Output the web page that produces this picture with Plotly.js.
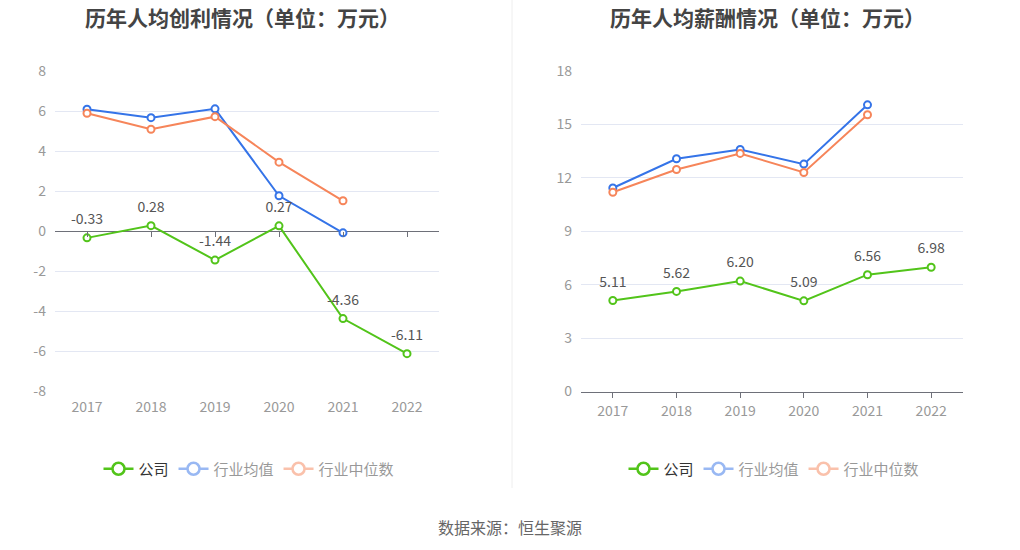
<!DOCTYPE html>
<html>
<head>
<meta charset="utf-8">
<script src="https://cdn.plot.ly/plotly-3.0.1.min.js"></script>
<style>
html,body{margin:0;padding:0;background:#fff;}
#chart{width:1020px;height:550px;}
/* the company entry keeps full opacity, the industry entries stay faded */
.legend .groups .traces:first-child,
.legend2 .groups .traces:first-child,
[class^="legend"] .groups .traces:first-child{opacity:1 !important;}
</style>
</head>
<body>
<div id="chart"></div>
<script>
// ---- data ----
var years = ['2017', '2018', '2019', '2020', '2021', '2022'];
var profitCompany = [-0.33, 0.28, -1.44, 0.27, -4.36, -6.11];
var profitIndustryAvg = [6.09, 5.67, 6.11, 1.77, -0.08, null];
var profitIndustryMedian = [5.89, 5.09, 5.72, 3.45, 1.52, null];
var salaryCompany = [5.11, 5.62, 6.20, 5.09, 6.56, 6.98];
var salaryIndustryAvg = [11.43, 13.07, 13.59, 12.77, 16.10, null];
var salaryIndustryMedian = [11.19, 12.47, 13.37, 12.30, 15.54, null];
var profitTickVals = [-8, -6, -4, -2, 0, 2, 4, 6, 8];
var profitTickText = ['-8', '-6', '-4', '-2', '0', '2', '4', '6', '8'];
var salaryTickVals = [0, 3, 6, 9, 12, 15, 18];
var salaryTickText = ['0', '3', '6', '9', '12', '15', '18'];
var seriesNames = ['公司', '行业均值', '行业中位数'];
var leftTitle = '历年人均创利情况（单位：万元）';
var rightTitle = '历年人均薪酬情况（单位：万元）';
var sourceText = '数据来源：恒生聚源';

// ---- style ----
var GREEN = '#52c41a', BLUE = '#3574e8', ORANGE = '#f6855a';
var FONT = '"Noto Sans CJK SC", "Noto Sans", sans-serif';
var W = 1020, H = 550;
function fx(px) { return px / W; }
function fy(py) { return 1 - py / H; }
var yDom = [fy(391.5), fy(71)];
var leftDom = [fx(55), fx(439)];
var rightDom = [fx(581), fx(963)];

function fmt(arr) { return arr.map(function (v) { return v == null ? '' : v.toFixed(2); }); }

function lineTrace(x, y, color, name, xa, ya) {
  return {
    type: 'scatter', mode: 'lines+markers', x: x, y: y, name: name,
    xaxis: xa, yaxis: ya,
    line: { color: color, width: 2 },
    marker: { symbol: 'circle', size: 7, color: '#fff', line: { color: color, width: 2 } },
    hoverinfo: 'skip', connectgaps: false, cliponaxis: false, showlegend: false
  };
}
function labelTrace(x, y, xa, ya) {
  return {
    type: 'scatter', mode: 'markers+text', x: x, y: y, xaxis: xa, yaxis: ya,
    text: fmt(y), textposition: 'top center',
    textfont: { size: 14, color: '#555', family: FONT },
    marker: { size: 15, color: 'rgba(0,0,0,0)', line: { width: 0 } },
    hoverinfo: 'skip', showlegend: false, cliponaxis: false
  };
}
// legend entries (legend-only copies of the series, drawn only in the legend)
function legendTrace(color, name, legendId, xa, ya, y) {
  return {
    type: 'scatter', mode: 'lines+markers', name: name, legend: legendId,
    x: years, y: y, xaxis: xa, yaxis: ya,
    visible: 'legendonly', showlegend: true,
    line: { color: color, width: 2.5 },
    marker: { symbol: 'circle', size: 12, color: '#fff', line: { color: color, width: 2.5 } },
    hoverinfo: 'skip'
  };
}

var traces = [
  // left chart
  lineTrace(years, profitIndustryAvg, BLUE, seriesNames[1], 'x', 'y'),
  lineTrace(years, profitIndustryMedian, ORANGE, seriesNames[2], 'x', 'y'),
  lineTrace(years, profitCompany, GREEN, seriesNames[0], 'x', 'y'),
  labelTrace(years, profitCompany, 'x', 'y'),
  legendTrace(GREEN, seriesNames[0], 'legend', 'x3', 'y', profitCompany),
  legendTrace(BLUE, seriesNames[1], 'legend', 'x3', 'y', profitIndustryAvg),
  legendTrace(ORANGE, seriesNames[2], 'legend', 'x3', 'y', profitIndustryMedian),
  // right chart
  lineTrace(years, salaryIndustryAvg, BLUE, seriesNames[1], 'x2', 'y2'),
  lineTrace(years, salaryIndustryMedian, ORANGE, seriesNames[2], 'x2', 'y2'),
  lineTrace(years, salaryCompany, GREEN, seriesNames[0], 'x2', 'y2'),
  labelTrace(years, salaryCompany, 'x2', 'y2'),
  legendTrace(GREEN, seriesNames[0], 'legend2', 'x2', 'y2', salaryCompany),
  legendTrace(BLUE, seriesNames[1], 'legend2', 'x2', 'y2', salaryIndustryAvg),
  legendTrace(ORANGE, seriesNames[2], 'legend2', 'x2', 'y2', salaryIndustryMedian)
];

var tickFont = { size: 14, color: '#999', family: FONT };
var gridColor = '#e3e7f3';
var zeroPos = yDom[0] + (yDom[1] - yDom[0]) * 0.5;

function legendCfg(cx) {
  return {
    orientation: 'h', x: fx(cx), xanchor: 'center', y: fy(469), yanchor: 'middle',
    font: { size: 15, color: '#333', family: FONT },
    itemclick: false, itemdoubleclick: false, traceorder: 'normal', itemwidth: 30
  };
}

var layout = {
  width: W, height: H,
  margin: { l: 0, r: 0, t: 0, b: 0 },
  paper_bgcolor: '#fff', plot_bgcolor: 'rgba(0,0,0,0)',
  font: { family: FONT, color: '#333' },
  showlegend: true,
  xaxis: {
    domain: leftDom, anchor: 'y', type: 'category', categoryarray: years,
    range: [-0.5, 5.5], showgrid: false, showline: false, zeroline: false,
    ticks: '', tickfont: tickFont, ticklabelstandoff: 5, fixedrange: true
  },
  xaxis3: {
    overlaying: 'x', anchor: 'free', position: zeroPos, type: 'category', categoryarray: years,
    range: [-0.5, 5.5], showgrid: false, showline: false, zeroline: false,
    ticks: 'outside', ticklen: 5, tickwidth: 1, tickcolor: '#6e7079', showticklabels: false
  },
  yaxis: {
    domain: yDom, anchor: 'x', range: [-8, 8],
    tickmode: 'array', tickvals: profitTickVals, ticktext: profitTickText,
    showgrid: true, gridcolor: gridColor, gridwidth: 1,
    zeroline: true, zerolinecolor: '#6e7079', zerolinewidth: 1,
    showline: false, ticks: '', tickfont: tickFont, ticklabelstandoff: 8
  },
  xaxis2: {
    domain: rightDom, anchor: 'y2', type: 'category', categoryarray: years,
    range: [-0.5, 5.5], showgrid: false, zeroline: false,
    showline: true, linecolor: '#6e7079', linewidth: 1,
    ticks: 'outside', ticklen: 5, tickcolor: '#6e7079',
    tickfont: tickFont, ticklabelstandoff: 2
  },
  yaxis2: {
    domain: yDom, anchor: 'x2', range: [0, 18],
    tickmode: 'array', tickvals: salaryTickVals, ticktext: salaryTickText,
    showgrid: true, gridcolor: gridColor, zeroline: false,
    showline: false, ticks: '', tickfont: tickFont, ticklabelstandoff: 8
  },
  legend: legendCfg(249),
  legend2: legendCfg(774),
  annotations: [
    { text: '<b>' + leftTitle + '</b>', xref: 'paper', yref: 'paper', x: fx(242), y: fy(17),
      xanchor: 'center', yanchor: 'middle', showarrow: false, font: { size: 21, color: '#444', family: FONT } },
    { text: '<b>' + rightTitle + '</b>', xref: 'paper', yref: 'paper', x: fx(767), y: fy(17),
      xanchor: 'center', yanchor: 'middle', showarrow: false, font: { size: 21, color: '#444', family: FONT } },
    { text: sourceText, xref: 'paper', yref: 'paper', x: 0.5, y: fy(527),
      xanchor: 'center', yanchor: 'middle', showarrow: false, font: { size: 16, color: '#666', family: FONT } }
  ],
  shapes: [
    { type: 'line', xref: 'paper', yref: 'paper', x0: fx(512), x1: fx(512), y0: fy(0), y1: fy(488),
      line: { color: '#eeeeee', width: 1 } }
  ]
};

Plotly.newPlot('chart', traces, layout, { displayModeBar: false });
</script>
</body>
</html>
